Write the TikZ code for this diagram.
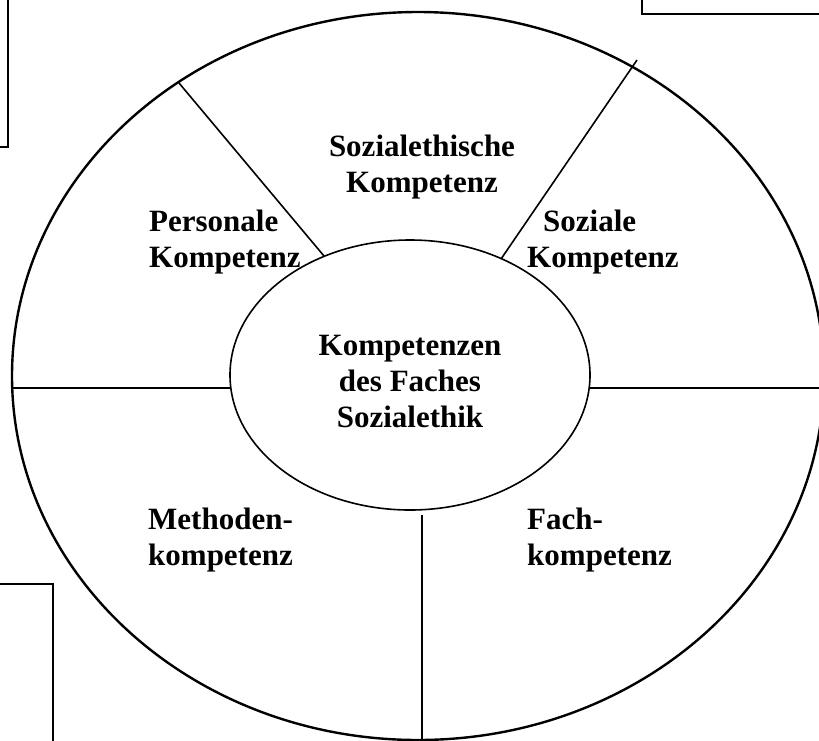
\documentclass[tikz,border=0pt]{standalone}
\usepackage{fontspec}
\setmainfont{Liberation Serif}
\tikzset{
  lbl/.style={font=\fontsize{31}{36}\selectfont\bfseries, align=center, inner sep=0pt},
  lblleft/.style={lbl, align=left},
}

\begin{document}
\begin{tikzpicture}[x=1pt,y=-1pt]
		%%%%% START %%%%%
		\clip (0,0) rectangle (819,740);
		
		% boxes cut off at the corners
		\draw[line width=1.6pt] (-20,-20) rectangle (8,147);
		\draw[line width=1.6pt] (642,14) rectangle (850,-20);
		\draw[line width=1.6pt] (-20,584) rectangle (53,760);
		
		% outer and inner ellipse
		\draw[line width=2.4pt] (418,376) ellipse [x radius=406, y radius=364];
		\draw[line width=1.6pt] (410,375) ellipse [x radius=180, y radius=135];
		
		% dividers
		\draw[line width=1.6pt] (179,83) -- (324,256);
		\draw[line width=1.6pt] (637,60) -- (501,259);
		\draw[line width=2pt] (13,388) -- (230,388);
		\draw[line width=2pt] (590,388) -- (819,388);
		\draw[line width=2.4pt] (422,515) -- (422,745);
		
		% labels
		\node[lbl] (sozialethisch) at (422,167) {Sozialethische\\Kompetenz};
		\node[lblleft, anchor=west] (personal) at (149,242) {Personale\\Kompetenz};
		\node[lblleft, anchor=west] (sozial) at (527,242) {\hspace*{16pt}Soziale\\Kompetenz};
		\node[lbl] (faches) at (410,381) {Kompetenzen\\des Faches\\Sozialethik};
		\node[lblleft, anchor=west] (methode) at (148,540) {Methoden-\\kompetenz};
		\node[lblleft, anchor=west] (fach) at (527,540) {Fach-\\kompetenz};
		
		%%%%% END %%%%%
	\end{tikzpicture}
\end{document}
